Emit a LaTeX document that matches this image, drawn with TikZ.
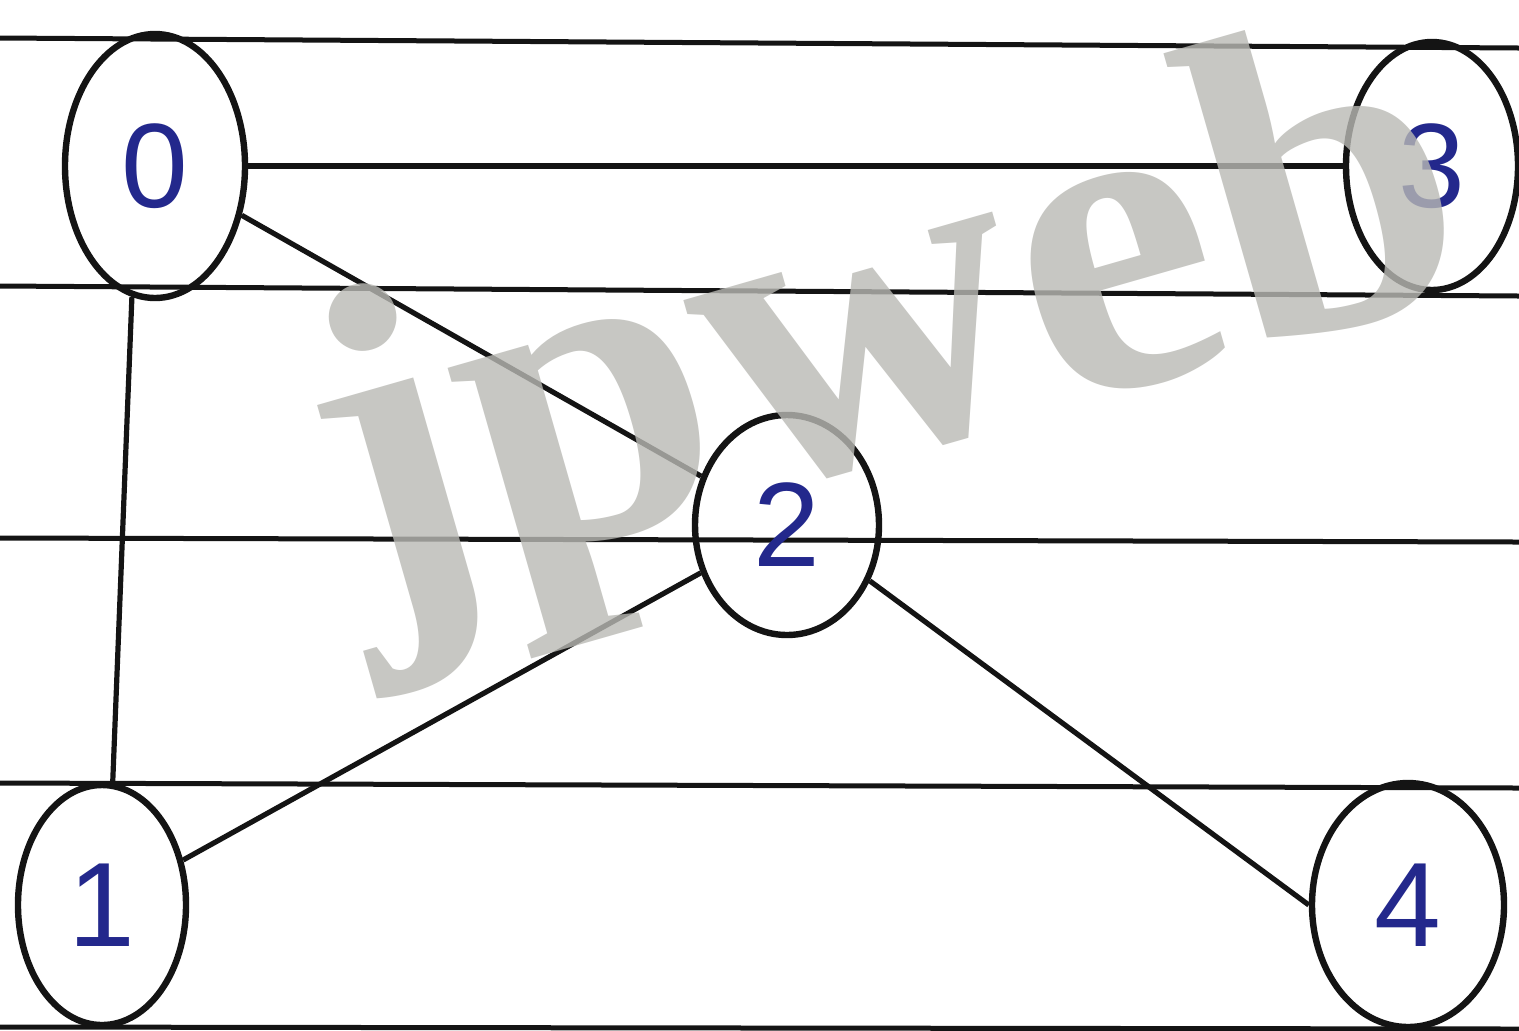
\documentclass[tikz,border=0pt]{standalone}
\usepackage{fontspec}
\setmainfont{Liberation Serif}
\newfontfamily\handfont{Liberation Sans}
\usetikzlibrary{shapes.geometric}
\definecolor{ink}{RGB}{20,20,20}
\definecolor{penblue}{RGB}{35,40,140}
\definecolor{wmgray}{RGB}{185,185,180}
\begin{document}
\begin{tikzpicture}[x=0.5pt,y=-0.5pt,
  ruled/.style={line width=2.5pt,ink},
  vertex/.style={ellipse,draw=ink,line width=3.2pt,inner sep=0pt,
    text=penblue,font=\handfont\fontsize{60}{60}\selectfont},
  edge/.style={line width=2.6pt,ink}]
\useasboundingbox (0,0) rectangle (1519,1030);
\clip (0,0) rectangle (1519,1030);
\fill[white] (0,0) rectangle (1519,1030);
% ruled paper lines
\coordinate (r1a) at (0,38);   \coordinate (r1b) at (1519,48);
\coordinate (r2a) at (0,286);  \coordinate (r2b) at (1519,296);
\coordinate (r3a) at (0,538);  \coordinate (r3b) at (1519,542);
\coordinate (r4a) at (0,783);  \coordinate (r4b) at (1519,788);
\coordinate (r5a) at (0,1027); \coordinate (r5b) at (1519,1029);
\draw[ruled] (r1a) -- (r1b);
\draw[ruled] (r2a) -- (r2b);
\draw[ruled] (r3a) -- (r3b);
\draw[ruled] (r4a) -- (r4b);
\draw[ruled] (r5a) -- (r5b);
% vertices
\node[vertex,minimum width=90pt,minimum height=132pt] (n0) at (155,166) {0};
\node[vertex,minimum width=86pt,minimum height=124pt] (n3) at (1432,166) {3};
\node[vertex,minimum width=92pt,minimum height=110pt] (n2) at (787,525) {2};
\node[vertex,minimum width=84pt,minimum height=120pt] (n1) at (102,905) {1};
\node[vertex,minimum width=96pt,minimum height=122pt] (n4) at (1408,905) {4};
% edges
\draw[edge] (n0) -- (n3);
\draw[edge] (n0) -- (n2);
\draw[edge] (n0.-100) -- (n1.85);
\draw[edge] (n1) -- (n2);
\draw[edge] (n2.-34) -- (n4.180);
% watermark (drawn over the ink, semi-transparent)
\node[wmgray,opacity=0.8,rotate=16,font=\bfseries\fontsize{225}{225}\selectfont,anchor=base west,inner sep=0pt] (wm) at (355,610) {jpweb};
\end{tikzpicture}
\end{document}
